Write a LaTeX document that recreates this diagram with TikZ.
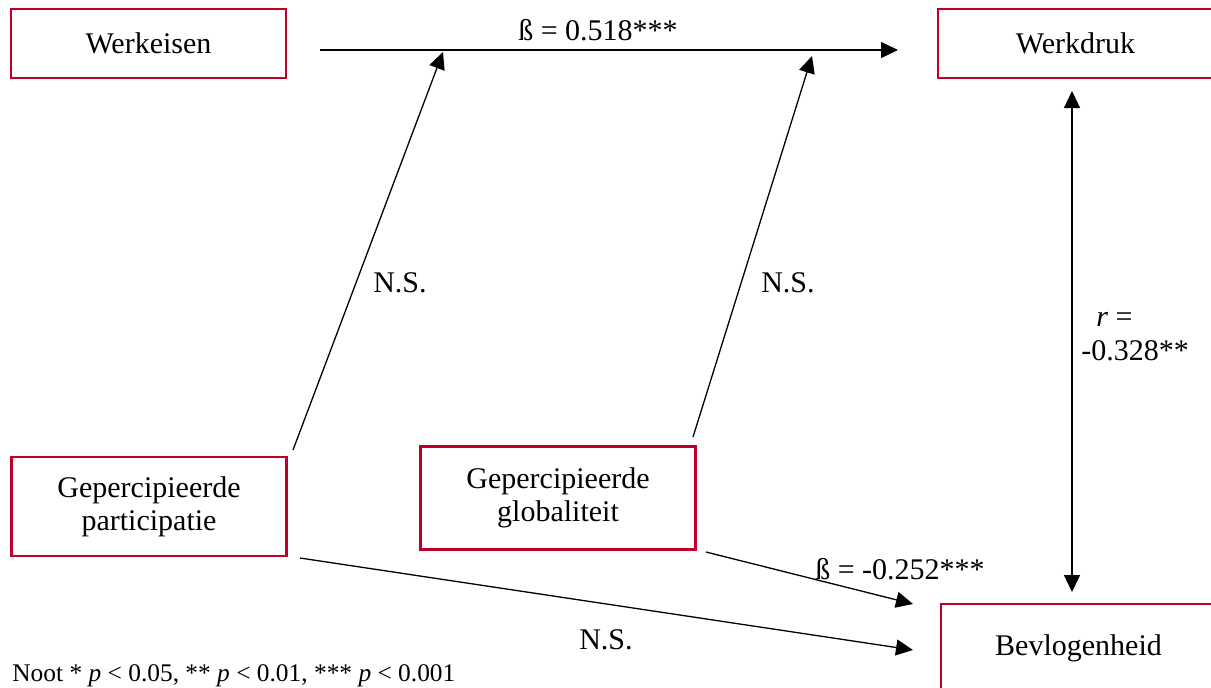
\documentclass[tikz,border=0pt]{standalone}
\usepackage{fontspec}
\setmainfont{Liberation Serif}
\usetikzlibrary{arrows.meta}
\definecolor{boxred}{RGB}{192,0,40}

\begin{document}
\begin{tikzpicture}[x=0.5pt, y=-0.5pt,
    var/.style={draw=boxred, line width=1.1pt, minimum width=137.5pt, align=center, inner sep=0pt, font=\fontsize{15}{16.5}\selectfont},
    path/.style={line width=0.65pt, -{Triangle[length=8.5pt, width=8pt]}},
    lbl/.style={font=\fontsize{15}{17}\selectfont}]
    \useasboundingbox (0,0) rectangle (1211,687);
    % boxes
    \node[var, minimum height=34.5pt] (eisen) at (148.5, 43.5) {Werkeisen};
    \node[var, minimum height=34.5pt] (druk) at (1075.5, 43.5) {Werkdruk};
    \node[var, minimum height=49.5pt] (partic) at (149, 506.5) {Gepercipieerde\\participatie};
    \node[var, minimum height=51.5pt] (glob) at (558, 498) {Gepercipieerde\\globaliteit};
    \node[var, minimum height=44pt] (bevl) at (1078.5, 648) {Bevlogenheid};
    % arrow ends
    \coordinate (eisenR) at (320, 50);
    \coordinate (drukL) at (898, 50);
    \coordinate (onA) at (443, 52);
    \coordinate (onB) at (812, 56);
    \coordinate (particT) at (293, 450);
    \coordinate (globT) at (693, 437);
    \coordinate (drukB) at (1072, 91);
    \coordinate (bevlT) at (1072, 592);
    \coordinate (globR) at (706, 552);
    \coordinate (particR) at (300, 558);
    \coordinate (bevlA) at (913, 604);
    \coordinate (bevlB) at (913, 650);
    % paths
    \draw[path] (eisenR) -- (drukL) node[lbl, midway, above=1pt, xshift=-5.5pt] (b1) {ß = 0.518***};
    \draw[path] (particT) -- (onA);
    \draw[path] (globT) -- (onB);
    \draw[path, {Triangle[length=8.5pt, width=8pt]}-{Triangle[length=8.5pt, width=8pt]}] (drukB) -- (bevlT);
    \draw[path] (globR) -- (bevlA);
    \draw[path] (particR) -- (bevlB);
    % labels
    \node[lbl] (ns1) at (400, 283) {N.S.};
    \node[lbl] (ns2) at (788, 283) {N.S.};
    \node[lbl] (ns3) at (606, 640) {N.S.};
    \node[lbl] (b2) at (900, 569) {ß = -0.252***};
    \node[lbl, align=left] (r1) at (1135, 337) {\hspace*{7.5pt}\textit{r} =\\-0.328**};
    \node[font=\fontsize{12.7}{15}\selectfont, anchor=base west, inner sep=0pt] (noot) at (12, 681) {Noot * \textit{p} < 0.05, ** \textit{p} < 0.01, *** \textit{p} < 0.001};
\end{tikzpicture}
\end{document}
